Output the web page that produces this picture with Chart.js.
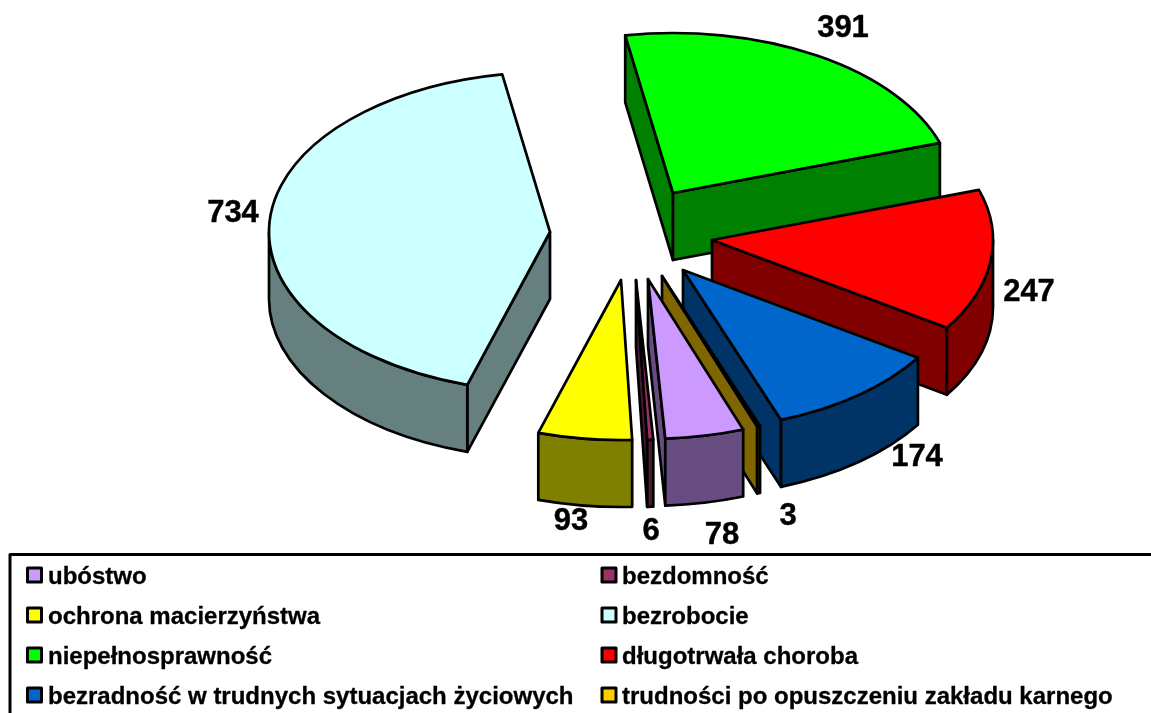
<!DOCTYPE html>
<html lang="pl">
<head>
<meta charset="utf-8">
<title>Powody przyznania pomocy</title>
<script src="https://cdn.jsdelivr.net/npm/chart.js@4"></script>
<style>
html,body{margin:0;padding:0;background:#fff;overflow:hidden}
canvas{display:block}
</style>
</head>
<body>
<canvas id="c" width="1151" height="713"></canvas>
<script>
const categories = ['ubóstwo','bezdomność','ochrona macierzyństwa','bezrobocie','niepełnosprawność','długotrwała choroba','bezradność w trudnych sytuacjach życiowych','trudności po opuszczeniu zakładu karnego'];
const values = [78,6,93,734,391,247,174,3];
const topColors = ['#CC99FF','#993366','#FFFF00','#CCFFFF','#00FF00','#FF0000','#0066CC','#FFCC00'];
const wallColors = ['#664C80','#4C1933','#808000','#668080','#008000','#800000','#003366','#806600'];

// 3D pie styling: each slice's explode shift, and where its value label sits relative to it
const explodeX = [-7,-19,-34,-105,18,57,28,7];
const explodeY = [43,44,44,-4,-43,4,34,40];
const labelX = [67,-4,-84,-422,188,374,262,133];
const labelY = [299,295,285,-23,-208,56,221,280];
const paintOrder = [3,4,5,6,7,2,1,0];
const squash = 160/281, depth = 67;

function slicePath(ctx, cx, cy, R, a0, a1){
  ctx.beginPath();
  ctx.moveTo(cx,cy);
  ctx.ellipse(cx,cy,R,R*squash,0,a0,a1);
  ctx.closePath();
}
function radialWall(ctx,cx,cy,R,a,fill){
  const px=cx+R*Math.cos(a), py=cy+R*squash*Math.sin(a);
  ctx.beginPath();
  ctx.moveTo(cx,cy); ctx.lineTo(px,py); ctx.lineTo(px,py+depth); ctx.lineTo(cx,cy+depth); ctx.closePath();
  ctx.fillStyle=fill; ctx.fill(); ctx.stroke();
}
const pie3d = {
  id:'pie3d',
  beforeDatasetsDraw(chart){
    const ctx=chart.ctx, arcs=chart.getDatasetMeta(0).data;
    ctx.save();
    ctx.lineWidth=2.7; ctx.strokeStyle='#000'; ctx.lineJoin='round';
    for(const i of paintOrder){
      const p=arcs[i].getProps(['x','y','startAngle','endAngle','outerRadius'],true);
      const cx=p.x+explodeX[i], cy=p.y+explodeY[i], R=p.outerRadius;
      const TAU=Math.PI*2;
      let a0=p.startAngle%TAU; if(a0>=Math.PI) a0-=TAU; if(a0<-Math.PI) a0+=TAU;
      const a1=a0+(p.endAngle-p.startAngle);
      if(Math.sin(a0+Math.PI/2)<0) radialWall(ctx,cx,cy,R,a0,wallColors[i]);
      if(Math.sin(a1+Math.PI/2)>0) radialWall(ctx,cx,cy,R,a1,wallColors[i]);
      const lo=Math.max(a0,0), hi=Math.min(a1,Math.PI);
      if(hi>lo){
        ctx.beginPath();
        ctx.ellipse(cx,cy,R,R*squash,0,lo,hi);
        ctx.ellipse(cx,cy+depth,R,R*squash,0,hi,lo,true);
        ctx.closePath();
        ctx.fillStyle=wallColors[i]; ctx.fill(); ctx.stroke();
      }
      slicePath(ctx,cx,cy,R,a0,a1);
      ctx.fillStyle=topColors[i]; ctx.fill(); ctx.stroke();
    }
    // value labels
    ctx.fillStyle='#000';
    ctx.lineWidth=0.4;
    ctx.font='bold 31px "Liberation Sans", Arial, sans-serif';
    ctx.textAlign='center'; ctx.textBaseline='middle';
    values.forEach((v,i)=>{
      const x=arcs[i].x+labelX[i], y=arcs[i].y+labelY[i];
      ctx.fillText(String(v), x, y); ctx.strokeText(String(v), x, y);
    });
    // legend
    ctx.lineWidth=3; ctx.strokeRect(10,554.5,1160,180);
    ctx.font='bold 24px "Liberation Sans", Arial, sans-serif';
    ctx.textAlign='left'; ctx.textBaseline='alphabetic';
    categories.forEach((t,i)=>{
      const col=i%2, row=(i-col)/2;
      const bx=col?602:27.5, by=568+row*40;
      ctx.fillStyle=topColors[i];
      ctx.lineWidth=3;
      ctx.fillRect(bx,by,14,14); ctx.strokeRect(bx,by,14,14);
      ctx.fillStyle='#000';
      ctx.lineWidth=0.3;
      const tx=col?622:48, ty=584+row*40;
      ctx.fillText(t,tx,ty); ctx.strokeText(t,tx,ty);
    });
    ctx.restore();
    return false;
  }
};
new Chart(document.getElementById('c'),{
  type:'pie',
  data:{labels:categories,datasets:[{data:values,backgroundColor:topColors,borderColor:'#000',radius:281}]},
  options:{
    responsive:false,animation:false,rotation:160.2,
    layout:{padding:{left:159,right:0,top:0,bottom:241}},
    plugins:{legend:{display:false},tooltip:{enabled:false},title:{display:false}}
  },
  plugins:[pie3d]
});
</script>
</body>
</html>
